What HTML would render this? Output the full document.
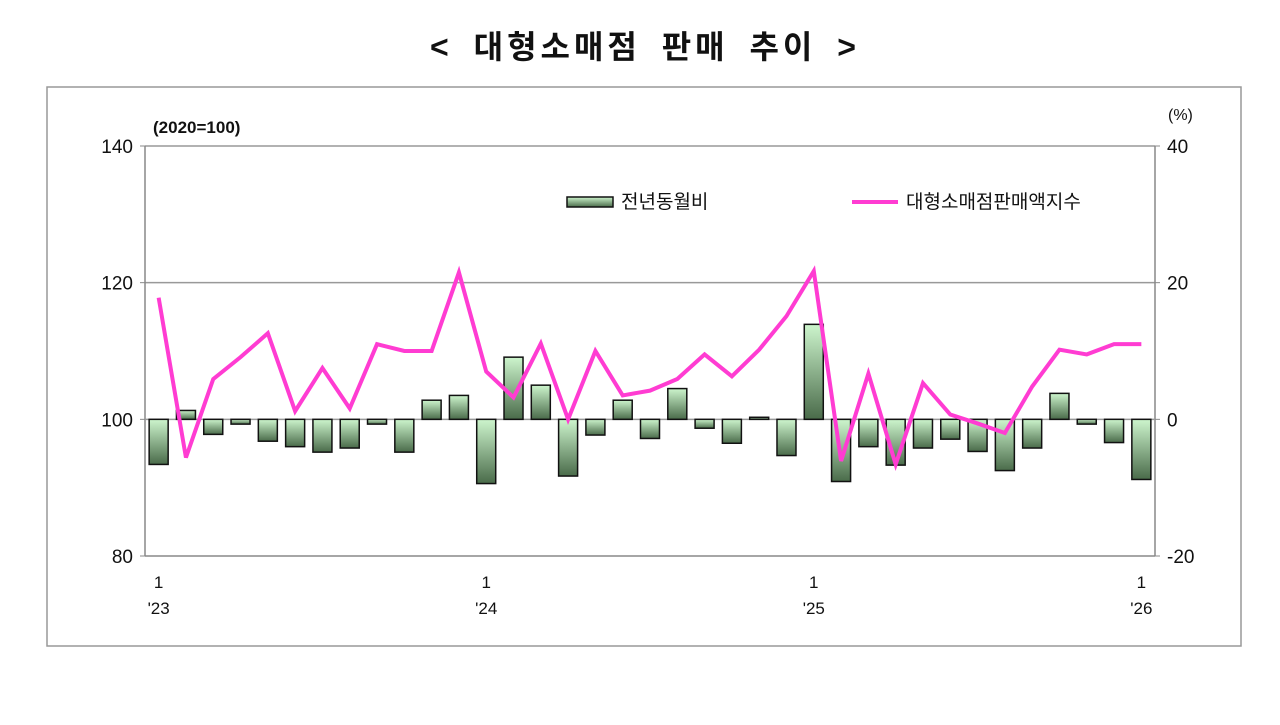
<!DOCTYPE html>
<html><head><meta charset="utf-8"><style>
body{margin:0;background:#fff;font-family:"Liberation Sans","Noto Sans CJK KR",sans-serif}
</style></head><body>
<svg width="1280" height="720" xmlns="http://www.w3.org/2000/svg" font-family="Liberation Sans, Noto Sans CJK KR, sans-serif">
<defs><linearGradient id="g" x1="0" y1="0" x2="0" y2="1"><stop offset="0" stop-color="#cdf5cd"/><stop offset="1" stop-color="#4a6b4a"/></linearGradient></defs>
<text x="645" y="58" text-anchor="middle" font-size="32" font-weight="bold" fill="#111" letter-spacing="4" word-spacing="8">&lt; 대형소매점 판매 추이 &gt;</text>
<rect x="47" y="87" width="1194" height="559" fill="none" stroke="#999" stroke-width="1.5"/>
<g id="axes"></g>
<g id="bars"></g>
<g id="line"></g>
<text x="153" y="133" font-size="17" font-weight="bold" fill="#111">(2020=100)</text>
<text x="1168" y="120" font-size="16" fill="#111">(%)</text>
<g><rect x="567" y="197" width="46" height="10" fill="url(#g)" stroke="#111" stroke-width="1.5"/><text x="621" y="208" font-size="19" fill="#111">전년동월비</text></g>
<g><line x1="852" y1="202" x2="898" y2="202" stroke="#ff3cd2" stroke-width="4"/><text x="906" y="208" font-size="19" fill="#111">대형소매점판매액지수</text></g>
</svg>
<script>
const months=37;
const yoy=[-6.6,1.3,-2.2,-0.7,-3.2,-4.0,-4.8,-4.2,-0.7,-4.8,2.8,3.5,-9.4,9.1,5.0,-8.3,-2.3,2.8,-2.8,4.5,-1.3,-3.5,0.3,-5.3,13.9,-9.1,-4.0,-6.7,-4.2,-2.9,-4.7,-7.5,-4.2,3.8,-0.7,-3.4,-8.8];
const idx=[117.8,94.4,105.9,109.1,112.6,101.2,107.5,101.6,111.0,110.0,110.0,121.5,107.0,103.2,111.1,100.0,110.0,103.5,104.2,105.9,109.5,106.3,110.2,115.1,121.7,93.9,106.7,93.4,105.3,100.7,99.4,98.0,104.8,110.2,109.5,111.0,111.0];
const leftTicks=[80,100,120,140];
const rightTicks=[-20,0,20,40];
const xLabels=[[0,"'23"],[12,"'24"],[24,"'25"],[36,"'26"]];
const X0=145,X1=1155,Y0=146,Y1=556;
const ns="http://www.w3.org/2000/svg";
const bw=(X1-X0)/months;
const xs=i=>X0+bw*(i+0.5);
const yl=v=>Y1-(v-80)/60*(Y1-Y0);
const yr=v=>Y1-(v+20)/60*(Y1-Y0);
function mk(t,a,p){const e=document.createElementNS(ns,t);for(const k in a)e.setAttribute(k,a[k]);p.appendChild(e);return e;}
const ax=document.getElementById('axes');
leftTicks.forEach(v=>{
 const y=yl(v);
 if(v==120||v==140){const l=mk('line',{x1:X0,x2:X1,y1:y,y2:y,stroke:'#999','stroke-width':1.5},ax);
 
 }
 const t=mk('text',{x:X0-12,y:y+7,'text-anchor':'end','font-size':19,fill:'#111'},ax);t.textContent=v;
 
 
 mk('line',{x1:X0-5,x2:X0,y1:y,y2:y,stroke:'#888'},ax);
});
rightTicks.forEach(v=>{
 const y=yr(v);
 const t=mk('text',{x:X1+12,y:y+7,'font-size':19,fill:'#111'},ax);t.textContent=v;
 
 
 mk('line',{x1:X1,x2:X1+5,y1:y,y2:y,stroke:'#888'},ax);
});
mk('line',{x1:X0,x2:X0,y1:Y0,y2:Y1,stroke:'#888','stroke-width':1.5},ax);
mk('line',{x1:X1,x2:X1,y1:Y0,y2:Y1,stroke:'#888','stroke-width':1.5},ax);
mk('line',{x1:X0,x2:X1,y1:Y1,y2:Y1,stroke:'#888','stroke-width':1.5},ax);
mk('line',{x1:X0,x2:X1,y1:yr(0),y2:yr(0),stroke:'#999','stroke-width':1.5},ax);
xLabels.forEach(([i,s])=>{
 const a=mk('text',{x:xs(i),y:588,'text-anchor':'middle','font-size':17,fill:'#111'},ax);a.textContent='1';
 
 
 const b=mk('text',{x:xs(i),y:614,'text-anchor':'middle','font-size':17,fill:'#111'},ax);b.textContent=s;
 
 
});
const bg=document.getElementById('bars');
yoy.forEach((v,i)=>{
 const y=Math.min(yr(v),yr(0)),h=Math.max(Math.abs(yr(v)-yr(0)),1.5);
 const r=mk('rect',{x:xs(i)-9.5,y:y,width:19,height:h,fill:'url(#g)',stroke:'#111','stroke-width':1.5},bg);
 
 
});
const p=mk('polyline',{points:idx.map((v,i)=>xs(i)+','+yl(v)).join(' '),fill:'none',stroke:'#ff3cd2','stroke-width':4,'stroke-linejoin':'miter'},document.getElementById('line'));


</script>
</body></html>
